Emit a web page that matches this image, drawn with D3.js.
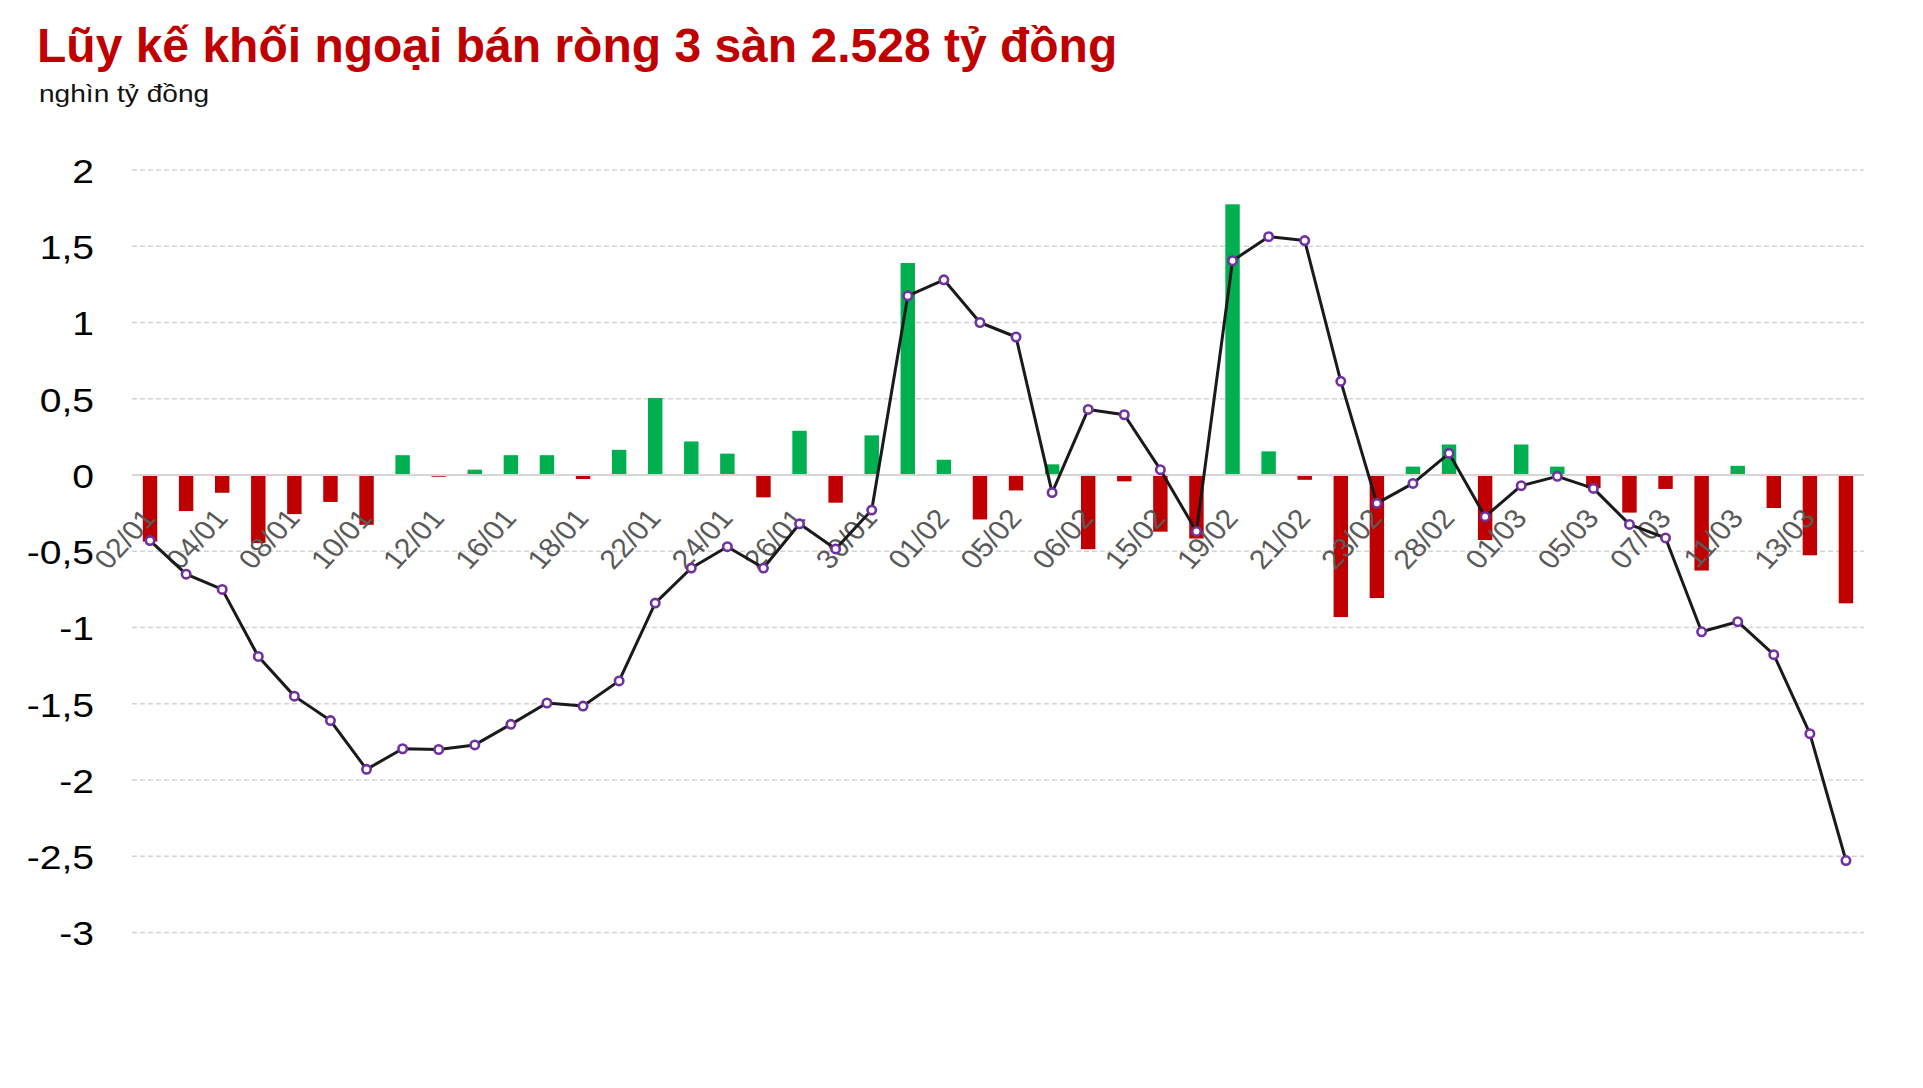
<!DOCTYPE html>
<html>
<head>
<meta charset="utf-8">
<script src="https://cdn.jsdelivr.net/npm/d3@7"></script>
<style>
  html, body { margin: 0; padding: 0; background: #ffffff; }
  svg { display: block; font-family: "Liberation Sans", Arial, Helvetica, sans-serif; }
</style>
</head>
<body>
<svg id="chart" width="1923" height="1088"></svg>
<script>
// ---------------- DATA ----------------
const dates = [
  "02/01","03/01","04/01","05/01","08/01","09/01","10/01","11/01","12/01","15/01",
  "16/01","17/01","18/01","19/01","22/01","23/01","24/01","25/01","26/01","29/01",
  "30/01","31/01","01/02","02/02","05/02","05/02","06/02","07/02","15/02","16/02",
  "19/02","20/02","21/02","22/02","23/02","26/02","28/02","29/02","01/03","04/03",
  "05/03","06/03","07/03","08/03","11/03","12/03","13/03","14/03"
];
// daily net foreign flow (thousand billion VND) - bars
const netFlow = [
  -0.43, -0.23, -0.11, -0.44, -0.25, -0.17, -0.32, 0.13, -0.005, 0.035,
   0.13,  0.13, -0.02, 0.165, 0.505, 0.22, 0.14, -0.14, 0.29, -0.175,
   0.26,  1.39,  0.10, -0.285, -0.095, 0.07, -0.48, -0.035, -0.365, -0.41,
   1.775, 0.155, -0.025, -0.925, -0.80, 0.055, 0.20, -0.42, 0.20, 0.055,
  -0.08, -0.24, -0.085, -0.62, 0.06, -0.21, -0.52, -0.835
];
// accumulated net flow - line
const cumulative = [
  -0.43, -0.65, -0.75, -1.19, -1.45, -1.61, -1.93, -1.795, -1.80, -1.77,
  -1.635, -1.495, -1.515, -1.35, -0.84, -0.61, -0.47, -0.61, -0.32, -0.485,
  -0.23, 1.175, 1.28, 1.00, 0.905, -0.115, 0.43, 0.395, 0.035, -0.37,
   1.405, 1.563, 1.537, 0.614, -0.186, -0.055, 0.142, -0.273, -0.07, -0.009,
  -0.088, -0.324, -0.413, -1.028, -0.962, -1.178, -1.696, -2.528
];
const yTicks = [-3, -2.5, -2, -1.5, -1, -0.5, 0, 0.5, 1, 1.5, 2];
const yTickLabels = ["-3", "-2,5", "-2", "-1,5", "-1", "-0,5", "0", "0,5", "1", "1,5", "2"];
const titleText = "Lũy kế khối ngoại bán ròng 3 sàn 2.528 tỷ đồng";
const unitText = "nghìn tỷ đồng";

// ---------------- LAYOUT ----------------
const svg = d3.select("#chart");
const plotLeft = 132, plotRight = 1864, plotTop = 170, plotBottom = 932.5;
const RED = "#c00000", GREEN = "#00b050";

const x = d3.scaleBand()
  .domain(d3.range(dates.length))
  .range([plotLeft, plotRight])
  .paddingInner(0.6)
  .paddingOuter(0.3);
const xc = i => x(i) + x.bandwidth() / 2;

const y = d3.scaleLinear().domain([-3, 2]).range([plotBottom, plotTop]);

// title
svg.append("text")
  .attr("x", 37).attr("y", 62)
  .attr("font-size", 48).attr("font-weight", "bold")
  .attr("fill", RED)
  .text(titleText);

svg.append("text")
  .attr("transform", "translate(39,101.5) scale(1.17,1)")
  .attr("font-size", 24).attr("fill", "#111")
  .text(unitText);

// gridlines
svg.append("g").selectAll("line")
  .data(yTicks.filter(t => t !== 0))
  .join("line")
  .attr("x1", plotLeft).attr("x2", plotRight)
  .attr("y1", d => y(d)).attr("y2", d => y(d))
  .attr("stroke", "#d3d3d3").attr("stroke-width", 1.6)
  .attr("stroke-dasharray", "5,3");

// y axis labels
const yAxis = d3.axisLeft(y).tickValues(yTicks)
  .tickFormat((d, i) => yTickLabels[i]).tickSize(0);
const gy = svg.append("g").attr("transform", `translate(${plotLeft},0)`).call(yAxis);
gy.select(".domain").remove();
gy.selectAll("text")
  .attr("x", 0).attr("dy", "0.36em")
  .attr("transform", "translate(-38,0) scale(1.15,1)")
  .attr("text-anchor", "end")
  .attr("font-size", 34).attr("fill", "#000")
  .attr("font-family", "'Liberation Sans', Arial, sans-serif");

// bars
svg.append("g").selectAll("rect")
  .data(netFlow)
  .join("rect")
  .attr("x", (d, i) => x(i))
  .attr("width", x.bandwidth())
  .attr("y", d => d >= 0 ? y(d) : y(0) + 1)
  .attr("height", d => Math.abs(y(d) - y(0)))
  .attr("fill", d => d >= 0 ? GREEN : RED);

// zero line
svg.append("line")
  .attr("x1", plotLeft).attr("x2", plotRight)
  .attr("y1", y(0)).attr("y2", y(0))
  .attr("stroke", "#d6d6d6").attr("stroke-width", 2);

// x axis labels
const xAxis = d3.axisBottom(x)
  .tickValues(d3.range(0, dates.length, 2))
  .tickFormat(i => dates[i]).tickSize(0);
const gx = svg.append("g").attr("transform", `translate(0,${y(0)})`).call(xAxis);
gx.select(".domain").remove();
gx.selectAll("text")
  .attr("x", 0).attr("y", 0).attr("dy", 0)
  .attr("transform", "translate(7,44) scale(1.12,1) rotate(-50)")
  .attr("text-anchor", "end")
  .attr("font-size", 27).attr("fill", "#595959")
  .attr("font-family", "'Liberation Sans', Arial, sans-serif");

// line
const line = d3.line().x((d, i) => xc(i)).y(d => y(d));
svg.append("path")
  .datum(cumulative)
  .attr("d", line)
  .attr("fill", "none")
  .attr("stroke", "#1a1a1a").attr("stroke-width", 3)
  .attr("stroke-linejoin", "round");

svg.append("g").selectAll("circle")
  .data(cumulative)
  .join("circle")
  .attr("cx", (d, i) => xc(i))
  .attr("cy", d => y(d))
  .attr("r", 4.2)
  .attr("fill", "#ffffff")
  .attr("stroke", "#7030a0").attr("stroke-width", 2.6);
</script>
</body>
</html>
